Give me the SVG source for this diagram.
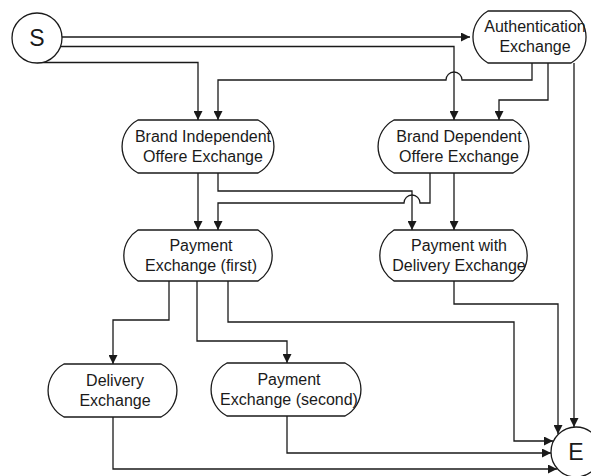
<svg xmlns="http://www.w3.org/2000/svg" width="591" height="476" viewBox="0 0 591 476">
  <style>
    .node { fill: #ffffff; stroke: #1a1a1a; stroke-width: 1.3; }
    .lbl { font-family: "Liberation Sans", Arial, sans-serif; font-size: 16px; fill: #1a1a1a; text-anchor: middle; }
    .big { font-size: 23px; }
    .wire { fill: none; stroke: #1a1a1a; stroke-width: 1.3; }
    .arr { marker-end: url(#head); }
  </style>
  <defs>
    <marker id="head" viewBox="0 0 10 10" refX="10" refY="5" markerWidth="9" markerHeight="9" markerUnits="userSpaceOnUse" orient="auto">
      <path d="M0,0 L10,5 L0,10 z" fill="#1a1a1a"/>
    </marker>
  </defs>
  <rect width="591" height="476" fill="#ffffff"/>

  <!-- connectors -->
  <g id="connectors">
    <path class="wire arr" d="M62 37 H470"/>
    <path class="wire arr" d="M61 46.5 H454 V120"/>
    <path class="wire arr" d="M37 62.5 H198 V120"/>
    <path class="wire arr" d="M532 63 V80 H462 A8 8 0 0 0 446 80 H218 V120"/>
    <path class="wire arr" d="M548 63 V100 H499 V120"/>
    <path class="wire arr" d="M574 63 V427"/>
    <path class="wire arr" d="M198 173 V230"/>
    <path class="wire arr" d="M218 173 V191 H412 V230"/>
    <path class="wire arr" d="M430 173 V203 H420 A8 8 0 0 0 404 203 H218 V230"/>
    <path class="wire arr" d="M454 173 V230"/>
    <path class="wire arr" d="M169 281 V320 H113 V364"/>
    <path class="wire arr" d="M197 281 V341 H287 V363"/>
    <path class="wire arr" d="M228 281 V322 H514 V441 H553"/>
    <path class="wire arr" d="M454 281 V304 H558 V434"/>
    <path class="wire arr" d="M113 417 V469 H557"/>
    <path class="wire arr" d="M287 416 V453 H551"/>
  </g>

  <!-- start / end -->
  <g id="start">
    <circle class="node" cx="37" cy="38" r="25"/>
    <text class="lbl big" x="37" y="46">S</text>
  </g>
  <g id="end">
    <circle class="node" cx="576" cy="452" r="25"/>
    <text class="lbl big" x="576" y="460">E</text>
  </g>

  <!-- exchanges -->
  <g id="authentication">
    <path class="node" d="M488 11 H571 A30 30 0 0 1 571 63 H488 A30 30 0 0 1 488 11 Z"/>
    <text class="lbl" x="535" y="32">Authentication</text>
    <text class="lbl" x="535" y="52">Exchange</text>
  </g>
  <g id="brand-independent">
    <path class="node" d="M138 120 H258 A30 30 0 0 1 258 173 H138 A30 30 0 0 1 138 120 Z"/>
    <text class="lbl" x="203" y="142">Brand Independent</text>
    <text class="lbl" x="203" y="162">Offere Exchange</text>
  </g>
  <g id="brand-dependent">
    <path class="node" d="M394 120 H513 A30 30 0 0 1 513 173 H394 A30 30 0 0 1 394 120 Z"/>
    <text class="lbl" x="459" y="142">Brand Dependent</text>
    <text class="lbl" x="459" y="162">Offere Exchange</text>
  </g>
  <g id="payment-first">
    <path class="node" d="M138 230 H258 A30 30 0 0 1 258 281 H138 A30 30 0 0 1 138 230 Z"/>
    <text class="lbl" x="201" y="251">Payment</text>
    <text class="lbl" x="201" y="271">Exchange (first)</text>
  </g>
  <g id="payment-delivery">
    <path class="node" d="M394 230 H513 A30 30 0 0 1 513 281 H394 A30 30 0 0 1 394 230 Z"/>
    <text class="lbl" x="459" y="251">Payment with</text>
    <text class="lbl" x="459" y="271">Delivery Exchange</text>
  </g>
  <g id="delivery">
    <path class="node" d="M64 364 H161 A30 30 0 0 1 161 417 H64 A30 30 0 0 1 64 364 Z"/>
    <text class="lbl" x="115" y="386">Delivery</text>
    <text class="lbl" x="115" y="406">Exchange</text>
  </g>
  <g id="payment-second">
    <path class="node" d="M227 363 H345 A30 30 0 0 1 345 416 H227 A30 30 0 0 1 227 363 Z"/>
    <text class="lbl" x="289" y="385">Payment</text>
    <text class="lbl" x="289" y="405">Exchange (second)</text>
  </g>
</svg>
